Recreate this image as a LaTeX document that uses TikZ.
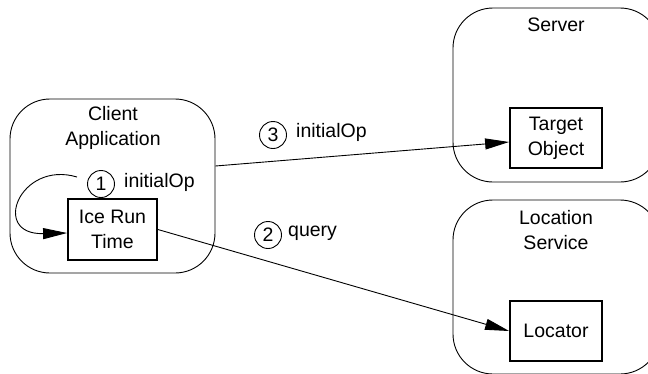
\documentclass[tikz,border=0pt]{standalone}
\usepackage{fontspec}
\setmainfont{Liberation Sans}
\usetikzlibrary{arrows.meta,calc}
\begin{document}
\begin{tikzpicture}[x=1pt,y=-1pt,
  every node/.style={font=\fontsize{19.5}{25}\selectfont, inner sep=0pt},
  container/.style={draw, line width=0.9pt, rounded corners=40pt, minimum width=#1, minimum height=174pt},
  objbox/.style={draw, line width=1.8pt, align=center, minimum width=92pt, minimum height=60pt},
  label/.style={align=center},
  stepcircle/.style={draw, circle, line width=0.9pt, minimum size=27pt},
  conn/.style={line width=0.9pt, -{Triangle[length=24pt,width=11pt]}}]
\useasboundingbox (0,0) rectangle (648,373);
\clip (0,0) rectangle (648,373);
% containers
\node[container=205pt] (client) at (112.5,186) {};
\node[container=207pt] (server) at (556.5,95) {};
\node[container=207pt] (locsvc) at (556.5,287) {};
% container labels
\node[label] (clientlbl) at (113,128) {Client\\Application};
\node[label] (serverlbl) at (556,25) {Server};
\node[label] (locsvclbl) at (556,230) {Location\\Service};
% objects
\node[objbox, minimum width=89pt, minimum height=61pt] (irt) at (112.5,229.5) {Ice Run\\Time};
\node[objbox] (target) at (556,138) {Target\\Object};
\node[objbox] (locator) at (556,331) {Locator};
% step labels
\node[stepcircle] (c1) at (101,184) {1};
\node[anchor=west] (t1) at (124,182) {initialOp};
\node[stepcircle] (c3) at (273,135) {3};
\node[anchor=west] (t3) at (296,132) {initialOp};
\node[stepcircle] (c2) at (268,235) {2};
\node[anchor=west] (t2) at (288,233) {query};
% connectors
\coordinate (loopstart) at (77,177);
\draw[conn] (loopstart) .. controls (20,160) and (-10,235) .. ($(irt.west)+(0,3.5)$);
\draw[conn] ($(client.east)+(0,-20)$) -- ($(target.west)+(0,4)$);
\draw[conn] (irt.east) -- (locator.west);
\end{tikzpicture}
\end{document}
